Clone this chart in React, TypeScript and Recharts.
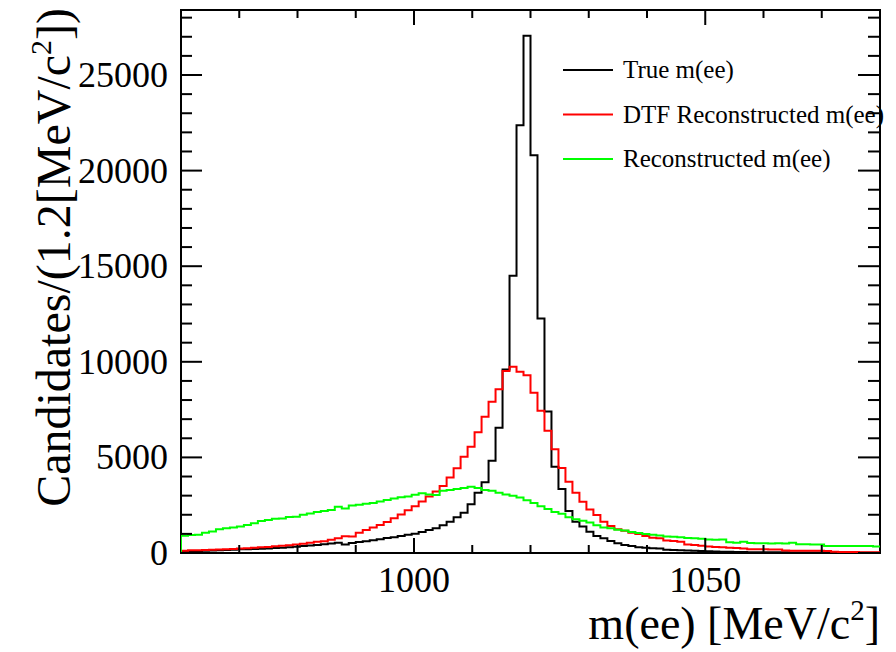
import React from 'react';
import { ComposedChart, Line, XAxis, YAxis, ReferenceArea } from 'recharts';

// histogram binning: 100 bins of 1.2 MeV from 960 to 1080
const BIN_LO = 960;
const BIN_W = 1.2;

// True m(ee), black
const trueMass = [
  90, 100, 110, 120, 130, 150, 160, 170, 190, 200,
  210, 220, 240, 260, 280, 300, 330, 360, 390, 420,
  460, 500, 540, 440, 520, 580, 620, 670, 720, 780,
  830, 890, 950, 1010, 1100, 1200, 1300, 1450, 1640, 1870,
  2100, 2545, 3150, 3700, 4830, 6550, 9600, 14500, 22370, 27050,
  20800, 12270, 7400, 4510, 3350, 2200, 1640, 1380, 1115, 890,
  770, 630, 505, 420, 370, 300, 280, 245, 230, 170,
  160, 150, 130, 120, 110, 90, 75, 65, 60, 55,
  50, 45, 45, 40, 40, 35, 35, 30, 30, 28,
  25, 25, 22, 20, 20, 18, 18, 15, 15, 12,
];

// DTF reconstructed m(ee), red
const dtfMass = [
  120, 150, 150, 160, 170, 180, 200, 210, 230, 250,
  270, 300, 320, 350, 380, 410, 450, 490, 540, 590,
  620, 690, 770, 880, 860, 1060, 1200, 1330, 1460, 1620,
  1820, 2020, 2230, 2450, 2700, 2950, 3220, 3500, 3950, 4430,
  5035, 5560, 6320, 7130, 7910, 8560, 9520, 9740, 9480, 9300,
  8380, 7440, 6390, 5420, 4440, 3730, 3150, 2680, 2280, 1990,
  1640, 1410, 1240, 1170, 1060, 1000, 890, 800, 770, 650,
  630, 590, 450, 420, 380, 340, 320, 300, 270, 260,
  240, 200, 190, 190, 180, 180, 130, 120, 120, 120,
  120, 115, 110, 60, 55, 50, 50, 45, 45, 40,
];

// Reconstructed m(ee), green
const recoMass = [
  900, 940, 960, 1060, 1120, 1240, 1290, 1340, 1380, 1460,
  1550, 1680, 1730, 1790, 1810, 1880, 1900, 2000, 2070, 2150,
  2200, 2250, 2420, 2330, 2480, 2520, 2580, 2620, 2700, 2770,
  2850, 2920, 2950, 3050, 3120, 3060, 3040, 3250, 3300, 3350,
  3400, 3470, 3400, 3300, 3250, 3150, 3060, 3000, 2900, 2760,
  2620, 2450, 2300, 2150, 2050, 1870, 1760, 1690, 1600, 1450,
  1340, 1290, 1220, 1180, 1100, 1040, 1000, 950, 910, 860,
  850, 830, 780, 770, 750, 700, 690, 700, 560, 540,
  590, 520, 505, 505, 500, 505, 500, 540, 460, 455,
  450, 450, 370, 366, 366, 366, 366, 366, 360, 340,
];

const xTicks = [970, 980, 990, 1000, 1010, 1020, 1030, 1040, 1050, 1060, 1070];
const xMajor = [1000, 1050];
const yTicks = [0, 1000, 2000, 3000, 4000, 5000, 6000, 7000, 8000, 9000, 10000, 11000, 12000, 13000, 14000,
  15000, 16000, 17000, 18000, 19000, 20000, 21000, 22000, 23000, 24000, 25000, 26000, 27000, 28000];
const yMajor = [0, 5000, 10000, 15000, 20000, 25000];

const series = [
  { key: 'true', name: 'True m(ee)', color: '#000000', values: trueMass },
  { key: 'dtf', name: 'DTF Reconstructed m(ee)', color: '#ff0000', values: dtfMass },
  { key: 'reco', name: 'Reconstructed m(ee)', color: '#00ff00', values: recoMass },
];

// step rows: a zero point at the low edge, one row per bin low edge, and the high edge
const nBins = trueMass.length;
const rows: any[] = [{ m: BIN_LO, true: 0, dtf: 0, reco: 0 }];
for (let i = 0; i < nBins; i++) {
  rows.push({ m: BIN_LO + BIN_W * i, true: trueMass[i], dtf: dtfMass[i], reco: recoMass[i] });
}
rows.push({ m: BIN_LO + BIN_W * nBins, true: trueMass[nBins - 1], dtf: dtfMass[nBins - 1], reco: recoMass[nBins - 1] });

const W = 896;
const H = 652;
const PL = 181; // plot frame
const PR = 880;
const PT = 10;
const PB = 553;
const FONT = '"Liberation Serif", "Times New Roman", serif';

const YTick = (props: any) => {
  const { y, payload } = props;
  const v = payload.value;
  const major = yMajor.includes(v);
  return (
    <g>
      <line x1={PL} x2={PL + (major ? 21 : 11)} y1={y} y2={y} stroke="#000" strokeWidth={2} />
      <line x1={PR - (major ? 22 : 12)} x2={PR} y1={y} y2={y} stroke="#000" strokeWidth={2} />
      {major && (
        <text x={PL - 13} y={y + 12} textAnchor="end" fontSize={36} fontFamily={FONT} fill="#000">{v}</text>
      )}
    </g>
  );
};

const XTick = (props: any) => {
  const { x, payload } = props;
  const v = payload.value;
  const major = xMajor.includes(v);
  const len = major ? 15 : 8;
  return (
    <g>
      <line x1={x} x2={x} y1={PB} y2={PB - len} stroke="#000" strokeWidth={2} />
      <line x1={x} x2={x} y1={PT} y2={PT + len} stroke="#000" strokeWidth={2} />
      {major && (
        <text x={x} y={592} textAnchor="middle" fontSize={36} fontFamily={FONT} fill="#000">{v}</text>
      )}
    </g>
  );
};

const XTitle = () => (
  <text x={PR} y={639} textAnchor="end" fontSize={46} fontFamily={FONT} fill="#000">
    m(ee) [MeV/c<tspan dy={-19} fontSize={29}>2</tspan><tspan dy={19}>]</tspan>
  </text>
);

const YTitle = () => (
  <text transform="rotate(-90)" x={-8} y={70} textAnchor="end" fontSize={48} fontFamily={FONT} fill="#000">
    Candidates/(1.2[MeV/c<tspan dy={-19} fontSize={30}>2</tspan><tspan dy={19}>])</tspan>
  </text>
);

export default function App() {
  return (
    <div style={{ position: 'absolute', left: 0, top: 0, width: W, height: H, background: '#fff', fontFamily: FONT }}>
      <ComposedChart width={W} height={H} data={rows} margin={{ top: PT, right: W - PR, bottom: 0, left: 0 }}>
        <XAxis
          dataKey="m"
          type="number"
          domain={[BIN_LO, BIN_LO + BIN_W * nBins]}
          ticks={xTicks}
          interval={0}
          tickSize={0}
          tickMargin={0}
          tickLine={false}
          axisLine={false}
          tick={XTick}
          height={H - PB}
          allowDataOverflow
          label={{ content: XTitle }}
        />
        <YAxis
          type="number"
          domain={[0, 28400]}
          ticks={yTicks}
          interval={0}
          tickSize={0}
          tickMargin={0}
          tickLine={false}
          axisLine={false}
          tick={YTick}
          width={PL}
          allowDataOverflow
          label={{ content: YTitle }}
        />
        {series.map((s) => (
          <Line
            key={s.key}
            dataKey={s.key}
            name={s.name}
            type="stepAfter"
            stroke={s.color}
            strokeWidth={2}
            dot={false}
            activeDot={false}
            isAnimationActive={false}
          />
        ))}
        <ReferenceArea x1={BIN_LO} x2={BIN_LO + BIN_W * nBins} y1={0} y2={28400} fill="none" stroke="#000" strokeWidth={2} ifOverflow="visible" />
      </ComposedChart>
      <svg width={W} height={H} style={{ position: 'absolute', left: 0, top: 0, pointerEvents: 'none' }}>
        {series.map((s, i) => (
          <g key={s.key}>
            <line x1={563} x2={613} y1={70 + i * 44.5} y2={70 + i * 44.5} stroke={s.color} strokeWidth={2} />
            <text x={623} y={78 + i * 44.5} fontSize={25} fontFamily={FONT} fill="#000">{s.name}</text>
          </g>
        ))}
      </svg>
    </div>
  );
}
